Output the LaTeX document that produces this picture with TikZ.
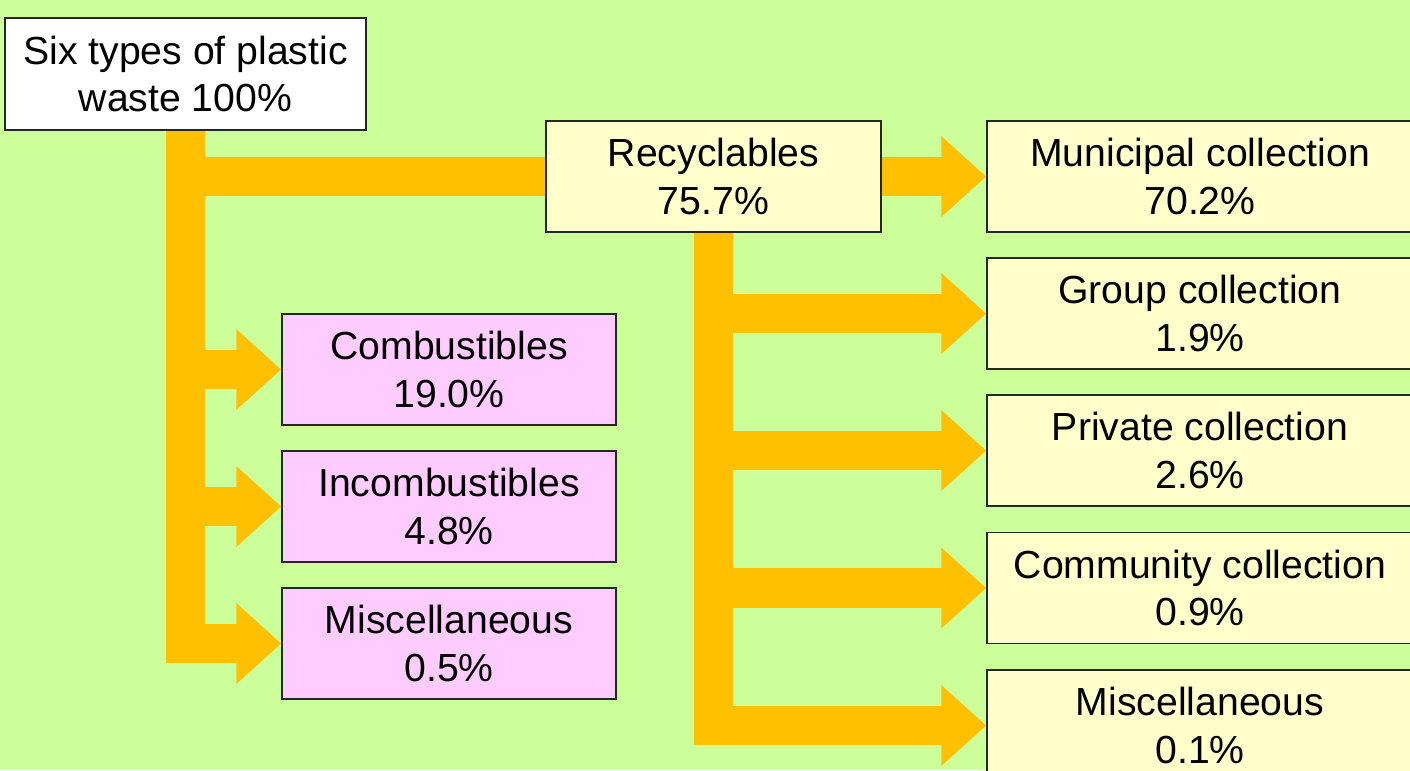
\documentclass[tikz,border=0pt]{standalone}
\usepackage{fontspec}
\setmainfont{Liberation Sans}
\usetikzlibrary{arrows.meta}
\definecolor{bggreen}{HTML}{CCFF99}
\definecolor{floworange}{HTML}{FFC000}
\definecolor{paleyellow}{HTML}{FFFFCC}
\definecolor{palepink}{HTML}{FFCCFF}

\begin{document}
\begin{tikzpicture}[
    box/.style={draw=black!85, line width=0.8pt, align=center, inner sep=0pt,
                minimum height=2.22cm, font=\fontsize{22.3}{27.2}\selectfont},
    sourcebox/.style={box, fill=white, minimum width=7.22cm, minimum height=2.24cm},
    recbox/.style={box, fill=paleyellow, minimum width=6.7cm},
    routebox/.style={box, fill=paleyellow, minimum width=8.52cm},
    sortbox/.style={box, fill=palepink, minimum width=6.68cm},
    band/.style={draw=floworange, line width=22.7pt},
    flow/.style={band, -{Triangle[length=25.5pt,width=44.2pt]}}
  ]
             \useasboundingbox (0, 0) rectangle (28.2, -15.4);
             \fill[bggreen] (0, 0) rectangle (28.2, -15.4);

             % boxes
             \node[sourcebox] (waste) at (3.71, -1.48) {Six types of plastic\\waste 100\%};
             \node[recbox] (recyc) at (14.27, -3.53) {Recyclables\\75.7\%};

             \node[sortbox] (comb) at (8.98, -7.39) {Combustibles\\19.0\%};
             \node[sortbox] (incomb) at (8.98, -10.13) {Incombustibles\\4.8\%};
             \node[sortbox] (miscA) at (8.98, -12.87) {Miscellaneous\\0.5\%};

             \node[routebox] (muni) at (24.0, -3.53) {Municipal collection\\70.2\%};
             \node[routebox] (group) at (24.0, -6.27) {Group collection\\1.9\%};
             \node[routebox] (priv) at (24.0, -9.01) {Private collection\\2.6\%};
             \node[routebox] (comm) at (24.0, -11.76) {Community collection\\0.9\%};
             \node[routebox] (miscB) at (24.0, -14.51) {Miscellaneous\\0.1\%};

             % left flows
             \draw[flow] (waste.south) |- (miscA.west);
             \draw[flow] (waste.south |- comb.west) -- (comb.west);
             \draw[flow] (waste.south |- incomb.west) -- (incomb.west);
             \draw[band] (waste.south |- recyc.west) -- (recyc.west);

             % right flows
             \draw[flow] (recyc.east) -- (muni.west);
             \draw[flow] (recyc.south) |- (miscB.west);
             \draw[flow] (recyc.south |- group.west) -- (group.west);
             \draw[flow] (recyc.south |- priv.west) -- (priv.west);
             \draw[flow] (recyc.south |- comm.west) -- (comm.west);
\end{tikzpicture}
\end{document}
